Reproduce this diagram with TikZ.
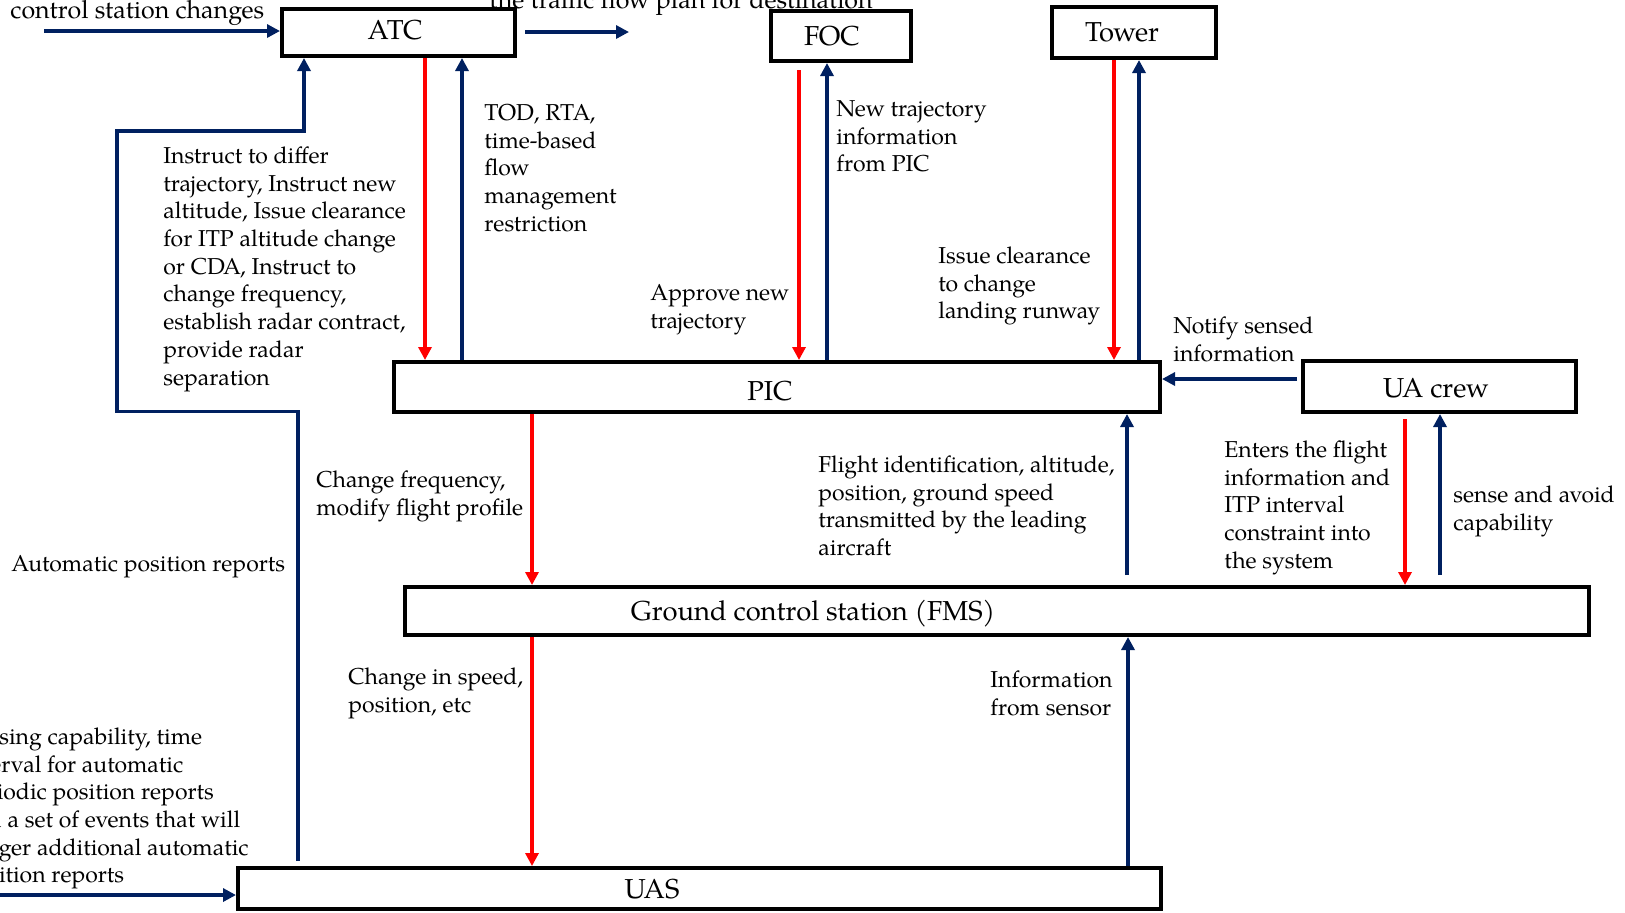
\documentclass[tikz,border=0pt]{standalone}
\usepackage{fontspec}
\setmainfont{texgyrepagella}[Extension=.otf,UprightFont=*-regular,BoldFont=*-bold,ItalicFont=*-italic,BoldItalicFont=*-bolditalic]
\usetikzlibrary{arrows.meta}
\definecolor{navy}{HTML}{002060}
\definecolor{flowred}{HTML}{FF0000}
\newcommand{\mylblfont}{\fontsize{11.5}{13.85}\selectfont}
\newcommand{\mytopfont}{\fontsize{12.5}{14.5}\selectfont}
\newcommand{\myboxfont}{\fontsize{13.7}{16}\selectfont}
\tikzset{
  unit/.style={draw=black, line width=2pt, fill=white, inner sep=0pt},
  unitname/.style={anchor=base, inner sep=0pt, font=\myboxfont},
  lbl/.style={anchor=north west, align=left, inner sep=0pt, font=\mylblfont},
  toplbl/.style={anchor=base west, inner sep=0pt, font=\mytopfont},
  tip/.style={-{Triangle[length=6.5pt,width=6.5pt]}},
  bluearr/.style={draw=navy, line width=1.6pt, tip},
  redarr/.style={draw=flowred, line width=1.6pt, tip},
}
\begin{document}
\begin{tikzpicture}[x=0.5pt,y=-0.5pt]
\useasboundingbox (0,0) rectangle (1625,912);
\fill[white] (0,0) rectangle (1625,912);
\clip (0,0) rectangle (1625,912);

% units
\node[unit, minimum width=116.5pt, minimum height=23.5pt] (ATC) at (398.5,32.5) {};
\node[unit, minimum width=70pt, minimum height=25pt] (FOC) at (841,36) {};
\node[unit, minimum width=82pt, minimum height=25.5pt] (Tower) at (1134,32.5) {};
\node[unit, minimum width=383pt, minimum height=25pt] (PIC) at (777,387) {};
\node[unit, minimum width=136.5pt, minimum height=25.5pt] (UAcrew) at (1439.5,386.5) {};
\node[unit, minimum width=592pt, minimum height=24pt] (GCS) at (997,611) {};
\node[unit, minimum width=461.5pt, minimum height=20.5pt] (UAS) at (699.5,888.5) {};

% unit names
\node[unitname] (ATC-t) at (395,39.5) {ATC};
\node[unitname] (FOC-t) at (832,45.5) {FOC};
\node[unitname] (Tower-t) at (1122,41) {Tower};
\node[unitname] (PIC-t) at (770,400) {PIC};
\node[unitname] (UAcrew-t) at (1436,397) {UA crew};
\node[unitname] (GCS-t) at (813,620) {Ground control station (FMS)};
\node[unitname] (UAS-t) at (652,898) {UAS};

% free ends
\coordinate (in1) at (44,31);
\coordinate (out1) at (629,32);
\coordinate (in2) at (-5,895);

% connectors
\draw[bluearr] (in1) -- (in1 -| ATC.west);
\draw[bluearr] ([xshift=4pt]ATC.east |- out1) -- (out1);
\draw[redarr] (ATC.south -| 425,0) -- (PIC.north -| 425,0);
\draw[bluearr] (PIC.north -| 462,0) -- (ATC.south -| 462,0);
\draw[redarr] ([yshift=-3.5pt]FOC.south -| 799,0) -- (PIC.north -| 799,0);
\draw[bluearr] (PIC.north -| 827,0) -- (FOC.south -| 827,0);
\draw[redarr] (Tower.south -| 1114,0) -- (PIC.north -| 1114,0);
\draw[bluearr] (PIC.north -| 1139,0) -- (Tower.south -| 1139,0);
\draw[bluearr] ([xshift=-2pt]UAcrew.west |- 0,379) -- (PIC.east |- 0,379);
\draw[bluearr, line width=1.8pt] ([yshift=2.5pt]UAS.north -| 298,0) -- (298,411.5) -- (117,411.5) -- (117,131) -- (304,131) -- (ATC.south -| 304,0);
\draw[redarr] (PIC.south -| 532,0) -- (GCS.north -| 532,0);
\draw[bluearr] ([yshift=5pt]GCS.north -| 1127,0) -- (PIC.south -| 1127,0);
\draw[redarr] ([yshift=-2.5pt]UAcrew.south -| 1405,0) -- (GCS.north -| 1405,0);
\draw[bluearr] ([yshift=5pt]GCS.north -| 1440,0) -- (UAcrew.south -| 1440,0);
\draw[redarr] (GCS.south -| 532,0) -- (UAS.north -| 532,0);
\draw[bluearr] (UAS.north -| 1128,0) -- (GCS.south -| 1128,0);
\draw[bluearr] (in2) -- (in2 -| UAS.west);

% message labels
\node[toplbl] (l-ctl) at (10,18) {control station changes};
\node[toplbl] (l-plan) at (489,8) {the traffic flow plan for destination};
\node[lbl] (l-instr) at (163,143.6) {\strut Instruct to differ\\trajectory, Instruct new\\altitude, Issue clearance\\for ITP altitude change\\or CDA, Instruct to\\change frequency,\\establish radar contract,\\provide radar\\separation};
\node[lbl] (l-tod) at (484,100.6) {\strut TOD, RTA,\\time-based\\flow\\management\\restriction};
\node[lbl] (l-newtraj) at (836,96.6) {\strut New trajectory\\information\\from PIC};
\node[lbl] (l-approve) at (650,280.6) {\strut Approve new\\trajectory};
\node[lbl] (l-issue) at (938,243.6) {\strut Issue clearance\\to change\\landing runway};
\node[lbl] (l-notify) at (1173,313.6) {\strut Notify sensed\\information};
\node[lbl] (l-freq) at (316,468) {\strut Change frequency,\\modify flight profile};
\node[lbl] (l-flight) at (818,452.6) {\strut Flight identification, altitude,\\position, ground speed\\transmitted by the leading\\aircraft};
\node[lbl] (l-enters) at (1224,437.6) {\strut Enters the flight\\information and\\ITP interval\\constraint into\\the system};
\node[lbl] (l-sense) at (1453,482.6) {\strut sense and avoid\\capability};
\node[lbl] (l-auto) at (11,551.6) {\strut Automatic position reports};
\node[lbl] (l-speed) at (348,664.6) {\strut Change in speed,\\position, etc};
\node[lbl] (l-sensor) at (990,667.6) {\strut Information\\from sensor};
\node[lbl] (l-config) at (-37.5,724.6) {\strut Sensing capability, time\\interval for automatic\\periodic position reports\\and a set of events that will\\trigger additional automatic\\position reports};
\end{tikzpicture}
\end{document}
